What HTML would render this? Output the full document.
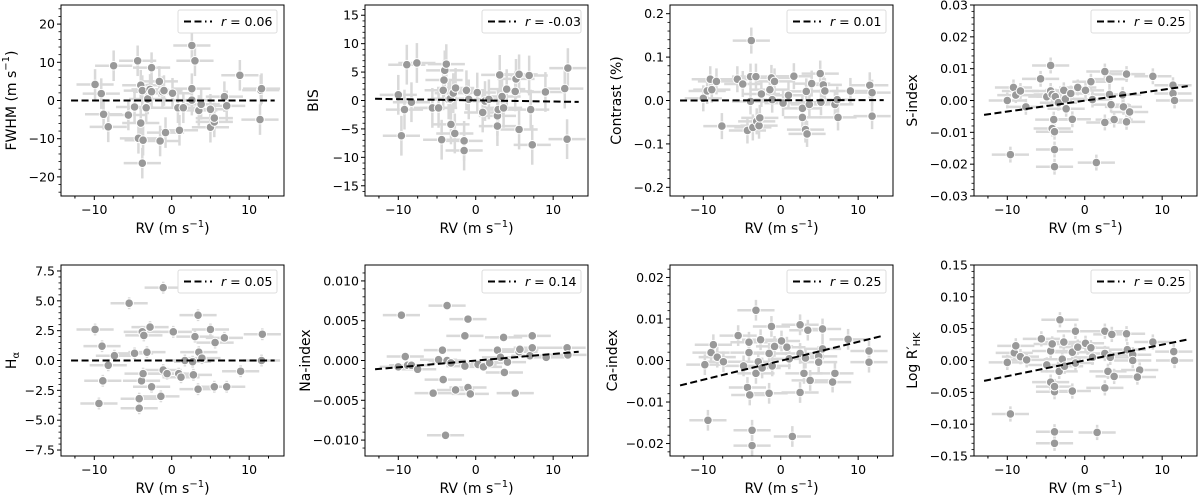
<!DOCTYPE html>
<html><head><meta charset="utf-8"><style>
html,body{margin:0;padding:0;background:#fff;}
svg{display:block;font-family:"DejaVu Sans","Liberation Sans",sans-serif;}
</style></head><body>
<svg id="fig" width="1200" height="497" viewBox="0 0 1200 497" xmlns="http://www.w3.org/2000/svg"></svg>
<script>
// ---- data arrays ----
const fwhmRV=[-9.9,-9.1,-8.8,-8.2,-7.5,-5.6,-4.8,-4.4,-4.3,-4.0,-4.0,-3.8,-3.8,-3.7,-3.3,-3.1,-2.8,-2.6,-2.6,-1.6,-1.5,-1.2,-1.0,-0.8,0.1,0.8,1.0,1.5,2.6,2.6,2.6,3.0,3.5,3.8,5.0,5.0,5.5,5.5,6.8,7.1,8.8,11.4,11.5,11.6];
const fwhmVals=[4.2,1.8,-3.6,-6.9,9.1,-3.8,-1.7,10.4,-9.9,4.0,-5.9,2.6,-16.4,-10.4,-1.9,0.4,2.9,8.6,2.3,5.0,-10.6,2.3,2.6,-8.4,1.9,-1.9,-7.8,-1.9,3.1,14.4,0.1,10.4,-2.6,-1.0,-2.3,-7.0,-5.6,-4.6,1.0,-1.4,6.6,-5.0,2.7,3.1];
const bisRV=[-10,-9.6,-9.2,-8.9,-8.3,-7.6,-5.6,-4.8,-4.4,-4.2,-4.1,-4.0,-3.8,-3.5,-3.3,-3.2,-2.9,-2.7,-2.6,-1.5,-1.5,-1.2,-0.9,0.2,0.9,1.2,1.7,2.8,2.8,2.9,3.1,3.4,3.6,4.0,5.1,5.2,5.6,5.6,6.9,7.1,7.3,9.0,11.5,11.8,11.9];
const bisVals=[1.0,-6.2,-1.6,6.3,-0.3,6.6,-1.3,-1.3,-6.9,1.8,3.6,5.3,6.4,0.2,0.3,-4.2,1.3,-5.8,2.2,-7.1,-8.8,1.8,0.2,1.4,-2.1,-0.1,0.2,-2.7,-4.5,-1.6,4.5,0.7,-1.3,2.0,1.6,3.8,4.6,-5.1,4.4,-1.6,-7.8,1.5,2.1,-6.8,5.7];
const conRV=[-10,-9.5,-9.1,-8.9,-8.3,-7.6,-5.6,-4.9,-4.3,-3.9,-3.9,-3.8,-3.6,-3.2,-3.1,-2.8,-2.7,-2.5,-1.4,-1.2,-1.1,-0.8,0.3,1.0,1.7,2.8,2.8,3.2,3.3,3.4,3.7,4.0,5.1,5.2,5.5,5.7,7.0,7.3,7.4,9.0,11.5,11.8,11.8];
const conVals=[0.005,0.022,0.049,0.025,0.044,-0.059,0.049,0.038,-0.069,0.055,-0.002,0.138,-0.062,0.055,-0.048,-0.058,-0.04,0.015,0.025,0.052,0.002,0.044,-0.006,0.012,0.056,-0.018,-0.039,-0.067,0.021,-0.077,-0.009,0.039,0.062,-0.004,0.036,0.022,-0.009,0.002,-0.039,0.022,0.035,-0.036,0.018];
const sRV=[-10,-9.6,-9.2,-8.9,-8.3,-7.6,-5.7,-4.9,-4.4,-4.2,-4.0,-3.9,-3.9,-3.9,-4.4,-4.2,-3.8,-3.4,-2.7,-2.5,-2.4,-1.8,-1.6,-0.9,0.1,0.8,1.0,1.5,2.6,2.6,3.2,3.2,3.4,3.8,4.9,5.0,5.4,5.4,5.8,8.8,11.4,11.4,11.6];
const sVals=[0.0,-0.017,0.0041,0.0017,0.003,-0.002,0.0068,0.0012,0.003,-0.0088,-0.006,-0.0098,-0.0154,-0.0208,0.011,0.0019,0.0012,-0.0007,0.0032,0.0005,-0.0026,0.0022,-0.0059,0.0041,0.0032,0.0059,0.0003,-0.0195,0.0091,-0.0069,0.0067,0.0019,-0.0013,-0.006,0.0018,-0.002,0.0083,-0.0067,-0.0036,0.0076,0.0048,0.0022,0.0];
const haRV=[-9.9,-9.4,-9.0,-8.9,-8.2,-7.4,-5.5,-4.8,-4.2,-4.2,-3.9,-3.8,-3.6,-3.7,-3.2,-2.8,-2.6,-1.4,-1.1,-1.1,-0.6,0.2,0.9,1.2,1.7,2.7,2.8,3.0,3.4,3.4,3.5,3.9,5.0,5.5,5.6,6.8,7.1,8.9,11.6,11.7];
const haVals=[2.6,-3.6,1.2,-1.7,-0.4,0.4,4.8,0.6,-3.2,-4.0,-1.7,2.4,2.1,-1.1,0.7,2.8,-2.2,-3.0,6.1,-0.8,-1.1,2.4,-1.1,-1.4,0.0,-0.1,-1.2,2.0,-2.4,3.8,0.7,0.2,2.6,-2.2,1.5,1.9,-2.2,-0.9,0.0,2.2];
const naRV=[-10,-9.6,-9.1,-8.8,-8.3,-7.5,-5.5,-4.8,-4.3,-4.2,-3.9,-3.7,-3.7,-3.2,-2.6,-1.4,-1.4,-1.0,-1.0,-0.7,0.3,1.0,1.8,2.8,3.2,3.6,3.7,4.1,5.1,5.6,5.7,7.0,7.3,7.3,9.1,11.8,11.9];
const naVals=[-0.0008,0.0057,0.0005,-0.0006,-0.0006,-0.0011,-0.0041,0.0001,0.0013,-0.0024,-0.0094,0.0069,0.0,-0.0003,-0.0037,-0.0007,0.0031,0.0052,-0.0034,-0.0042,-0.0005,-0.0008,-0.0003,0.0013,0.0004,0.0029,-0.0015,-0.0002,-0.0041,0.0011,0.0014,0.0006,0.0031,0.0016,0.0004,0.0016,0.0007];
const caRV=[-9.8,-9.4,-9.0,-8.7,-8.2,-7.4,-5.5,-4.8,-4.3,-4.1,-4.1,-4.0,-3.7,-3.7,-3.2,-3.2,-2.9,-2.6,-2.4,-1.5,-1.5,-1.2,-1.1,-0.8,0.1,0.8,1.1,1.5,2.5,2.5,2.5,3.0,3.2,3.5,3.8,4.9,4.9,5.4,5.4,6.7,7.0,8.7,11.4,11.4];
const caVals=[-0.001,-0.0144,0.0019,0.0038,0.0008,-0.0003,0.006,-0.0013,-0.0065,0.0044,0.0019,-0.0083,-0.0168,-0.0205,0.0121,-0.0031,-0.0003,0.005,-0.0018,0.0017,-0.0079,0.0082,-0.0013,0.0034,0.0047,0.0032,0.0004,-0.0183,0.0086,0.0017,-0.0077,-0.0031,0.0006,0.0073,-0.0048,0.001,-0.0004,0.0028,0.0076,-0.0052,-0.0031,0.0051,0.0023,-0.0004];
const rhkRV=[-10,-9.6,-9.1,-8.9,-8.3,-7.5,-5.6,-4.9,-4.4,-4.4,-4.2,-3.9,-3.9,-3.9,-3.9,-3.2,-3.3,-2.9,-2.7,-2.6,-1.6,-1.6,-1.2,-1.2,-0.9,0.1,0.8,1.0,1.6,2.6,2.6,2.6,3.0,3.3,3.5,3.8,5.4,5.5,6.2,6.2,7.1,6.8,8.8,11.5,11.6];
const rhkVals=[-0.003,-0.084,0.012,0.023,0.006,0.001,0.034,-0.007,0.015,-0.034,0.026,-0.049,-0.041,-0.112,-0.130,0.064,-0.017,0.002,0.029,-0.009,0.013,-0.048,0.046,-0.004,0.021,0.027,0.020,0.005,-0.113,0.046,0.011,-0.043,-0.017,0.005,0.041,-0.025,0.042,0.017,0.009,0.0,-0.015,-0.026,0.029,0.014,0.0];
const rValues=["0.06","-0.03","0.01","0.25","0.05","0.14","0.25","0.25"];
const fitEnds=[[0,0],[0.3,-0.25],[0,0.001],[-0.0045,0.0045],[0,0],[-0.0011,0.0011],[-0.006,0.006],[-0.032,0.033]];
const yTicks=[[-20,-10,0,10,20],[-15,-10,-5,0,5,10,15],[-0.2,-0.1,0,0.1,0.2],[-0.03,-0.02,-0.01,0,0.01,0.02,0.03],[-7.5,-5,-2.5,0,2.5,5,7.5],[-0.01,-0.005,0,0.005,0.01],[-0.02,-0.01,0,0.01,0.02],[-0.15,-0.1,-0.05,0,0.05,0.1,0.15]];
const yTickText=[["−20","−10","0","10","20"],["−15","−10","−5","0","5","10","15"],["−0.2","−0.1","0.0","0.1","0.2"],["−0.03","−0.02","−0.01","0.00","0.01","0.02","0.03"],["−7.5","−5.0","−2.5","0.0","2.5","5.0","7.5"],["−0.010","−0.005","0.000","0.005","0.010"],["−0.02","−0.01","0.00","0.01","0.02"],["−0.15","−0.10","−0.05","0.00","0.05","0.10","0.15"]];
const yLims=[[-25,25],[-16.8,16.8],[-0.22,0.22],[-0.03,0.03],[-8,8],[-0.012,0.012],[-0.023,0.023],[-0.15,0.15]];
const yErrs=[4,3.5,0.03,0.0025,0.5,0.0005,0.0025,0.012];
const xTicks=[-10,0,10];

const panels=[
 {name:"fwhm",xs:fwhmRV,ys:fwhmVals,label:'FWHM (m s<tspan dy="-6" font-size="10">−1</tspan><tspan dy="6">)</tspan>',lx:12},
 {name:"bis",xs:bisRV,ys:bisVals,label:'BIS',lx:314},
 {name:"contrast",xs:conRV,ys:conVals,label:'Contrast (%)',lx:617},
 {name:"s-index",xs:sRV,ys:sVals,label:'S-index',lx:913},
 {name:"h-alpha",xs:haRV,ys:haVals,label:'H<tspan dy="4" font-size="10">α</tspan>',lx:12},
 {name:"na-index",xs:naRV,ys:naVals,label:'Na-index',lx:306},
 {name:"ca-index",xs:caRV,ys:caVals,label:'Ca-index',lx:613},
 {name:"log-rhk",xs:rhkRV,ys:rhkVals,label:'Log R′<tspan dy="4" font-size="10">HK</tspan>',lx:913}
];
const colLeft=[61,365,670,974], W=223;
const rowTop=[5,265], H=191;
const XL=[-14.3,14.5];
const NS="http://www.w3.org/2000/svg";
const fig=document.getElementById('fig');
function mk(tag,attrs,parent){const e=document.createElementNS(NS,tag);for(const k in attrs)e.setAttribute(k,attrs[k]);(parent||fig).appendChild(e);return e;}

panels.forEach((p,i)=>{
 const L=colLeft[i%4], T=rowTop[Math.floor(i/4)];
 const yl=yLims[i];
 const sx=v=>L+(v-XL[0])/(XL[1]-XL[0])*W;
 const sy=v=>T+H-(v-yl[0])/(yl[1]-yl[0])*H;
 const g=mk('g',{});
 
 
 const eg=mk('g',{stroke:'#d9d9d9','stroke-width':2.5},g);
 
 
 p.xs.forEach((x,j)=>{
  const y=p.ys[j];
  const ex=mk('line',{x1:sx(x-2.4),x2:sx(x+2.4),y1:sy(y),y2:sy(y)},eg);
  
  
  const ey=mk('line',{x1:sx(x),x2:sx(x),y1:sy(y-yErrs[i]),y2:sy(y+yErrs[i])},eg);
  
  
 });
 p.xs.forEach((x,j)=>{
  const c=mk('circle',{cx:sx(x),cy:sy(p.ys[j]),r:4.3,fill:'#999999',stroke:'#ffffff','stroke-width':1},g);
  
  
 });
 const f=mk('line',{x1:sx(-13),x2:sx(13.3),y1:sy(fitEnds[i][0]),y2:sy(fitEnds[i][1]),stroke:'#000','stroke-width':2,'stroke-dasharray':'7,3.5'},g);
 
 
 const fr=mk('rect',{x:L,y:T,width:W,height:H,fill:'none',stroke:'#000','stroke-width':1},g);
 
 
 for(let v=-12.5;v<=12.6;v+=2.5){
  const major=xTicks.includes(v);
  mk('line',{x1:sx(v),x2:sx(v),y1:T+H,y2:T+H+(major?4:2.5),stroke:'#000','stroke-width':1},g);
 }
 xTicks.forEach(v=>{
  const t=mk('text',{x:sx(v),y:T+H+18,'text-anchor':'middle','font-size':12.5,fill:'#000'},g);
  t.textContent=(v<0?'−':'')+Math.abs(v);
  
  
 });
 const xl=mk('text',{x:L+W/2,y:T+H+37,'text-anchor':'middle','font-size':14,fill:'#000'},g);
 xl.innerHTML='RV (m s<tspan dy="-6" font-size="10">−1</tspan><tspan dy="6">)</tspan>';
 
 
 const yt=yTicks[i]; const step=yt[1]-yt[0];
 for(let k=-1;k<yt.length;k++){
  for(let m=1;m<5;m++){const v=yt[0]+(k+m/5)*step; if(v>yl[0]&&v<yl[1]) mk('line',{x1:L,x2:L-2.5,y1:sy(v),y2:sy(v),stroke:'#000','stroke-width':0.8},g);}
 }
 yt.forEach((v,k)=>{
  mk('line',{x1:L,x2:L-4,y1:sy(v),y2:sy(v),stroke:'#000','stroke-width':1},g);
  const t=mk('text',{x:L-6,y:sy(v)+4.5,'text-anchor':'end','font-size':12.5,fill:'#000'},g);
  t.textContent=yTickText[i][k];
  
  
 });
 const ylab=mk('text',{x:p.lx,y:T+H/2,'text-anchor':'middle','font-size':14,fill:'#000',transform:`rotate(-90 ${p.lx} ${T+H/2})`,'dominant-baseline':'central'},g);
 ylab.innerHTML=p.label;
 
 
 const lg=mk('g',{},g);
 
 
 mk('rect',{x:L+W-106,y:T+5,width:99,height:23,rx:2,fill:'#fff',stroke:'#dddddd','stroke-width':1},lg);
 mk('line',{x1:L+W-100,x2:L+W-72,y1:T+16.5,y2:T+16.5,stroke:'#000','stroke-width':2,'stroke-dasharray':'7,3.5,7,3.5,1.5,3.5'},lg);
 const lt=mk('text',{x:L+W-63,y:T+21,'font-size':12.5,fill:'#000'},lg);
 lt.innerHTML='<tspan font-style="italic">r</tspan> = '+rValues[i];
 
 
});
</script>
</body></html>
